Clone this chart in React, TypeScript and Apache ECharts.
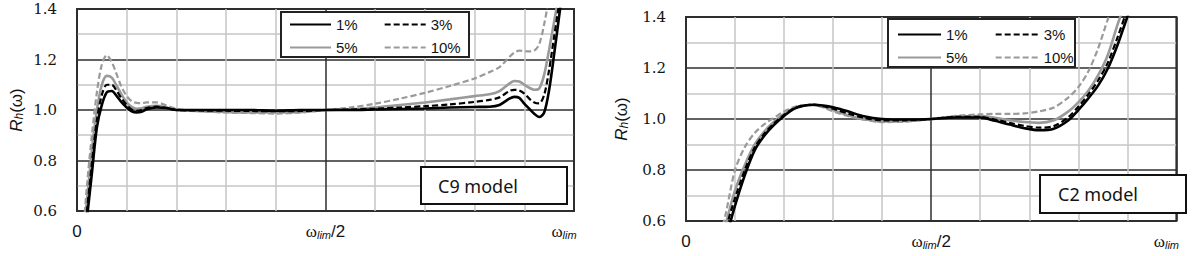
import React, { useEffect, useRef } from "react";
import * as echarts from "echarts";

// ---------- data ----------
const seriesNames = ["1%", "3%", "5%", "10%"];

// C9 model (left panel): frequency as fraction of ω_lim
const c9Freq = [0.01, 0.02, 0.03, 0.04, 0.05, 0.06, 0.07, 0.08, 0.09, 0.1, 0.11, 0.12, 0.13, 0.14, 0.16, 0.18, 0.2, 0.25, 0.3, 0.35, 0.4, 0.45, 0.5, 0.55, 0.6, 0.65, 0.7, 0.75, 0.8, 0.83, 0.85, 0.87, 0.88, 0.89, 0.9, 0.91, 0.92, 0.93, 0.94, 0.95, 0.96, 0.97, 0.98];
const c9R1 = [0.38, 0.57, 0.75, 0.93, 1.02, 1.07, 1.075, 1.055, 1.03, 1.01, 0.995, 0.99, 0.993, 1.003, 1.01, 1.008, 1.0, 1.0, 1.0, 1.0, 0.997, 1.0, 1.0, 1.0, 1.002, 1.004, 1.006, 1.01, 1.012, 1.013, 1.02, 1.045, 1.052, 1.048, 1.025, 1.005, 0.985, 0.972, 0.99, 1.08, 1.22, 1.37, 1.52];
const c9R3 = [0.42, 0.6, 0.79, 0.96, 1.06, 1.1, 1.1, 1.075, 1.045, 1.02, 1.002, 0.997, 1.0, 1.008, 1.013, 1.008, 1.0, 0.998, 0.997, 0.996, 0.995, 0.996, 1.0, 1.002, 1.005, 1.01, 1.015, 1.022, 1.032, 1.04, 1.05, 1.075, 1.08, 1.077, 1.065, 1.045, 1.03, 1.026, 1.06, 1.16, 1.29, 1.42, 1.55];
const c9R5 = [0.45, 0.64, 0.84, 1.0, 1.1, 1.135, 1.128, 1.095, 1.06, 1.03, 1.012, 1.005, 1.007, 1.013, 1.017, 1.01, 1.0, 0.995, 0.992, 0.99, 0.99, 0.992, 1.0, 1.003, 1.01, 1.02, 1.03, 1.042, 1.055, 1.062, 1.075, 1.105, 1.115, 1.113, 1.1, 1.088, 1.08, 1.085, 1.14, 1.24, 1.35, 1.46, 1.58];
const c9R10 = [0.45, 0.7, 0.9, 1.07, 1.18, 1.217, 1.19, 1.14, 1.09, 1.055, 1.035, 1.028, 1.027, 1.03, 1.03, 1.018, 1.005, 0.995, 0.99, 0.988, 0.986, 0.99, 1.0, 1.01, 1.025, 1.045, 1.068, 1.095, 1.125, 1.15, 1.17, 1.21, 1.228, 1.235, 1.233, 1.232, 1.235, 1.26, 1.34, 1.45, 1.6, 1.75, 1.9];

// C2 model (right panel)
const c2Freq = [0.06, 0.08, 0.1, 0.12, 0.14, 0.16, 0.18, 0.2, 0.22, 0.24, 0.26, 0.28, 0.3, 0.33, 0.36, 0.4, 0.45, 0.5, 0.55, 0.6, 0.63, 0.66, 0.69, 0.72, 0.75, 0.78, 0.8, 0.82, 0.84, 0.86, 0.88, 0.9, 0.92, 0.94];
const c2R1 = [0.36, 0.52, 0.66, 0.78, 0.877, 0.935, 0.978, 1.012, 1.04, 1.052, 1.056, 1.053, 1.046, 1.03, 1.012, 1.0, 0.998, 1.0, 1.006, 1.006, 0.993, 0.978, 0.964, 0.956, 0.962, 0.995, 1.035, 1.08, 1.13, 1.197, 1.29, 1.4, 1.5, 1.6];
const c2R3 = [0.4, 0.56, 0.69, 0.8, 0.888, 0.943, 0.984, 1.016, 1.041, 1.053, 1.056, 1.05, 1.04, 1.022, 1.006, 0.995, 0.995, 1.0, 1.008, 1.008, 0.998, 0.985, 0.973, 0.966, 0.972, 1.008, 1.048, 1.095, 1.15, 1.22, 1.32, 1.43, 1.54, 1.66];
const c2R5 = [0.42, 0.58, 0.72, 0.82, 0.9, 0.952, 0.99, 1.02, 1.042, 1.054, 1.055, 1.048, 1.035, 1.015, 1.0, 0.99, 0.992, 1.0, 1.01, 1.012, 1.005, 0.995, 0.988, 0.985, 0.995, 1.03, 1.065, 1.11, 1.17, 1.25, 1.37, 1.48, 1.6, 1.72];
const c2R10 = [0.48, 0.62, 0.8, 0.89, 0.945, 0.98, 1.005, 1.03, 1.047, 1.055, 1.055, 1.045, 1.03, 1.012, 0.998, 0.988, 0.99, 1.0, 1.012, 1.018, 1.02, 1.02, 1.022, 1.03, 1.045, 1.085, 1.125, 1.185, 1.275, 1.39, 1.5, 1.62, 1.75, 1.88];

// axis ticks
const xLabelValues = [0, 0.5, 1];
const xLabelTexts = ["{z|0}", "{w|ω}{s|lim}{z|/2}", "{w|ω}{s|lim}{pad|}"];
const yMajorTicks = [0.6, 0.8, 1.0, 1.2, 1.4];
const modelNames = ["C9 model", "C2 model"];

// ---------- styles ----------
const lineStyles: Record<string, any> = {
  "1%": { color: "#000000", type: "solid", width: 2.6 },
  "3%": { color: "#000000", type: [6, 3], width: 2.2 },
  "5%": { color: "#9a9a9a", type: "solid", width: 2.6 },
  "10%": { color: "#9a9a9a", type: [6, 3], width: 2.2 },
};

const DARK = "#2e2e2e";
const LIGHT = "#c6c6c6";
const TEXT = "#141414";

function xAxisFor(gridIndex: number) {
  const colors = [DARK, LIGHT, LIGHT, LIGHT, LIGHT, DARK, LIGHT, LIGHT, LIGHT, LIGHT, DARK];
  return {
    gridIndex,
    type: "value",
    min: 0,
    max: 1,
    interval: 0.1,
    axisLine: { show: false },
    axisTick: { show: false },
    axisLabel: {
      show: true,
      margin: 12,
      showMinLabel: true,
      showMaxLabel: true,
      hideOverlap: false,
      formatter: (v: number) => {
        for (let i = 0; i < xLabelValues.length; i++) {
          if (Math.abs(v - xLabelValues[i]) < 1e-6) return xLabelTexts[i];
        }
        return "";
      },
      rich: {
        z: { fontFamily: "Liberation Sans", fontSize: 17, color: TEXT },
        w: { fontFamily: "Liberation Serif", fontSize: 17, color: TEXT },
        s: {
          fontFamily: "Liberation Sans",
          fontStyle: "italic",
          fontSize: 11,
          color: TEXT,
          verticalAlign: "bottom",
        },
        pad: { width: 20 },
      },
    },
    splitLine: { show: true, lineStyle: { color: colors, width: 1.5 } },
  };
}

function yAxisFor(gridIndex: number, nameGap: number) {
  return {
    gridIndex,
    type: "value",
    min: 0.6,
    max: 1.4,
    interval: 0.1,
    axisLine: { show: false },
    axisTick: { show: false },
    axisLabel: {
      margin: 20,
      showMinLabel: true,
      showMaxLabel: true,
      fontFamily: "DejaVu Serif",
      fontSize: 15,
      color: TEXT,
      formatter: (v: number) => {
        const hit = yMajorTicks.find((t) => Math.abs(t - v) < 1e-6);
        return hit !== undefined ? hit.toFixed(1) : "";
      },
    },
    splitLine: { show: true, lineStyle: { color: [DARK, LIGHT], width: 1.5 } },
    name: "{i|R}{s|h}{n|(ω)}",
    nameLocation: "middle",
    nameGap,
    nameRotate: 90,
    nameTextStyle: {
      rich: {
        i: { fontFamily: "Liberation Sans", fontStyle: "italic", fontSize: 17, color: TEXT },
        s: {
          fontFamily: "Liberation Sans",
          fontStyle: "italic",
          fontSize: 12,
          color: TEXT,
          verticalAlign: "bottom",
        },
        n: { fontFamily: "Liberation Sans", fontSize: 17, color: TEXT },
      },
    },
  };
}

function makeSeries(name: string, freq: number[], vals: number[], gridIndex: number) {
  return {
    name,
    type: "line",
    xAxisIndex: gridIndex,
    yAxisIndex: gridIndex,
    data: freq.map((f, i) => [f, vals[i]]),
    symbol: "none",
    smooth: 0.3,
    clip: true,
    lineStyle: lineStyles[name],
    itemStyle: { color: lineStyles[name].color },
    z: 2,
  };
}

function legendRow(data: string[], left: number, top: number, itemWidth: number, itemGap: number) {
  return {
    data,
    left,
    top,
    orient: "horizontal",
    padding: 0,
    itemWidth,
    itemHeight: 12,
    itemGap,
    selectedMode: false,
    itemStyle: { opacity: 0, borderWidth: 0 },
    textStyle: { fontFamily: "Liberation Sans", fontSize: 15, color: TEXT },
    z: 6,
  };
}

export default function App() {
  const ref = useRef<HTMLDivElement>(null);

  useEffect(() => {
    if (!ref.current) return;
    const chart = echarts.init(ref.current, undefined, { renderer: "svg" });

    const c9Vals: Record<string, number[]> = { "1%": c9R1, "3%": c9R3, "5%": c9R5, "10%": c9R10 };
    const c2Vals: Record<string, number[]> = { "1%": c2R1, "3%": c2R3, "5%": c2R5, "10%": c2R10 };
    const drawOrder = [...seriesNames].reverse();

    const series: any[] = [];
    drawOrder.forEach((n) => series.push(makeSeries(n, c9Freq, c9Vals[n], 0)));
    drawOrder.forEach((n) => series.push(makeSeries(n, c2Freq, c2Vals[n], 1)));

    const option: any = {
      animation: false,
      backgroundColor: "#ffffff",
      grid: [
        { left: 77, top: 9, width: 497, height: 202, show: true, borderColor: "#333", borderWidth: 2, backgroundColor: "transparent" },
        { left: 686, top: 17, width: 496, height: 204, show: true, borderColor: "#333", borderWidth: 2, backgroundColor: "transparent" },
      ],
      xAxis: [xAxisFor(0), xAxisFor(1)],
      yAxis: [yAxisFor(0, 52), yAxisFor(1, 56)],
      legend: [
        legendRow([seriesNames[0], seriesNames[1]], 289, 17, 41, 26),
        legendRow([seriesNames[2], seriesNames[3]], 289, 40, 41, 26),
        legendRow([seriesNames[0], seriesNames[1]], 897, 27, 43, 27),
        legendRow([seriesNames[2], seriesNames[3]], 897, 50, 43, 27),
      ],
      graphic: [
        { type: "rect", z: 3, shape: { x: 281, y: 12, width: 188, height: 45 }, style: { fill: "#fff", stroke: "#222", lineWidth: 2 } },
        { type: "rect", z: 3, shape: { x: 888, y: 19, width: 187, height: 48 }, style: { fill: "#fff", stroke: "#222", lineWidth: 2 } },
        { type: "rect", z: 3, shape: { x: 421, y: 167, width: 146, height: 37 }, style: { fill: "#fff", stroke: "#111", lineWidth: 2 } },
        { type: "text", z: 5, x: 438, y: 185.5, style: { text: modelNames[0], fontFamily: "Noto Sans", fontSize: 18, fill: TEXT, verticalAlign: "middle" } },
        { type: "rect", z: 3, shape: { x: 1040, y: 175, width: 146, height: 38 }, style: { fill: "#fff", stroke: "#111", lineWidth: 2 } },
        { type: "text", z: 5, x: 1058, y: 193.5, style: { text: modelNames[1], fontFamily: "Noto Sans", fontSize: 18, fill: TEXT, verticalAlign: "middle" } },
      ],
      series,
    };

    chart.setOption(option);
    return () => chart.dispose();
  }, []);

  return (
    <div
      ref={ref}
      style={{ position: "absolute", left: 0, top: 0, width: 1192, height: 256, background: "#fff" }}
    />
  );
}
